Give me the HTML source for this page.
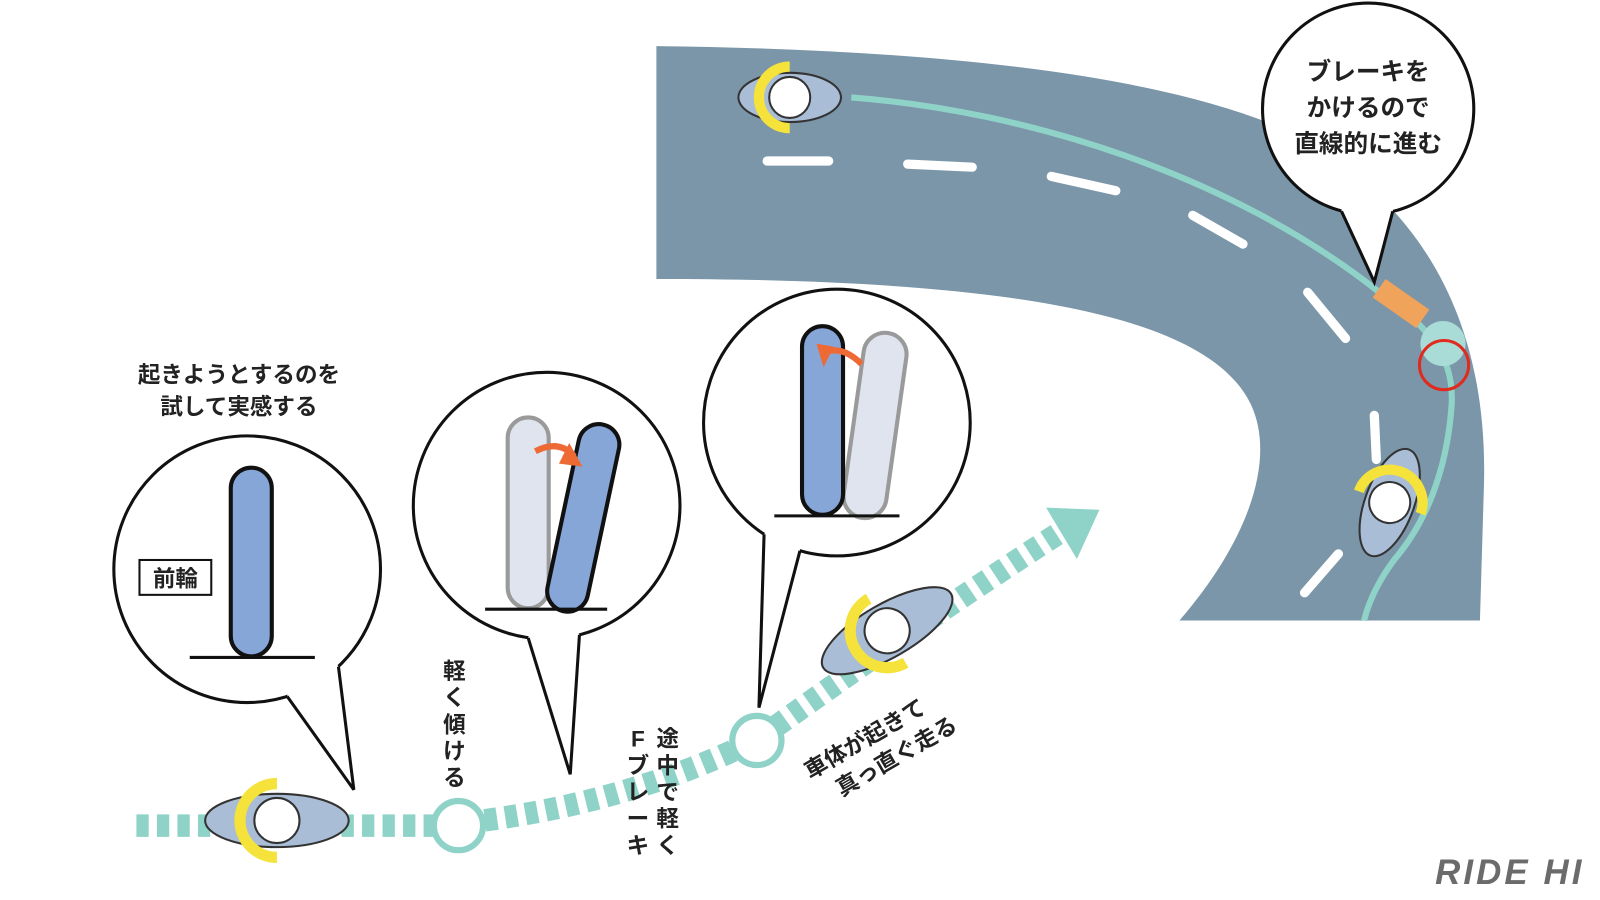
<!DOCTYPE html>
<html><head><meta charset="utf-8"><style>
html,body{margin:0;padding:0;background:#fff;}
svg{display:block;}
text{font-family:"Liberation Sans","Noto Sans CJK JP",sans-serif;font-weight:bold;fill:#222;}
</style></head><body>
<svg width="1600" height="900" viewBox="0 0 1600 900" xmlns="http://www.w3.org/2000/svg">
<g transform="scale(1.0256)">
<!-- road -->
<path d="M640,45 C900,48 1120,70 1250,125 C1400,200 1450,330 1447,470 L1443,605 L1150,605 C1215,530 1245,450 1220,395 C1180,310 1000,272 640,272 Z" fill="#7b96a9"/>
<g stroke="#fff" stroke-width="9" stroke-linecap="round" fill="none">
<path d="M748,157 L808,157"/><path d="M885,160 L948,163"/><path d="M1025,172 L1088,186"/>
<path d="M1163,210 L1212,238"/><path d="M1275,285 L1312,330"/><path d="M1340,405 L1342,448"/>
<path d="M1305,540 L1272,578"/>
</g>
<path d="M830,95 C1000,108 1200,170 1345,285 C1395,320 1420,350 1415,400 C1410,460 1390,510 1360,545 C1345,565 1335,585 1330,605" stroke="#8fd3c8" stroke-width="6" fill="none"/>
<rect x="1340" y="285" width="52" height="22" fill="#f0a35a" transform="rotate(35 1366 296)"/>
<circle cx="1407" cy="335" r="22" fill="#a9dcd6"/>
<circle cx="1408" cy="356" r="24" fill="none" stroke="#e02a1e" stroke-width="3"/>
<!-- top bubble -->
<circle cx="1334" cy="106" r="103" fill="#fff" stroke="#111" stroke-width="3"/>
<path d="M1310,180 L1308,206 L1340,275 L1358,206 L1360,180 Z" fill="#fff"/>
<path d="M1308,206 L1340,275 L1358,206" fill="none" stroke="#111" stroke-width="3"/>
<text x="1334" y="78" font-size="24" text-anchor="middle">ブレーキを</text>
<text x="1334" y="113" font-size="24" text-anchor="middle">かけるので</text>
<text x="1334" y="148" font-size="24" text-anchor="middle">直線的に進む</text>
<!-- riders on road -->
<g transform="translate(770,95) rotate(90)">
<ellipse cx="0" cy="0" rx="24" ry="50" fill="#a9bdd6" stroke="#333" stroke-width="2"/>
<path d="M-30,0 A30,30 0 0 0 30,0" stroke="#f5e23a" stroke-width="10" fill="none"/>
<circle cx="0" cy="0" r="20" fill="#fff" stroke="#333" stroke-width="2"/>
</g>
<g transform="translate(1355,490) rotate(200)">
<ellipse cx="0" cy="0" rx="24" ry="55" fill="#a9bdd6" stroke="#333" stroke-width="2"/>
<path d="M-32,0 A32,32 0 0 0 32,0" stroke="#f5e23a" stroke-width="10" fill="none"/>
<circle cx="0" cy="0" r="20" fill="#fff" stroke="#333" stroke-width="2"/>
</g>
<!-- bottom path -->
<path d="M133,805 L425,805 Q600,790 740,720 Q900,605 1040,515" stroke="#8fd3c8" stroke-width="22" fill="none" stroke-dasharray="12,8"/>
<path d="M1072,497 L1020,495 L1050,545 Z" fill="#8fd3c8"/>
<circle cx="447" cy="805" r="24" fill="#fff" stroke="#8fd3c8" stroke-width="6"/>
<circle cx="738" cy="722" r="24" fill="#fff" stroke="#8fd3c8" stroke-width="6"/>
<g transform="translate(270,800) rotate(90)">
<ellipse cx="0" cy="0" rx="26" ry="70" fill="#a9bdd6" stroke="#333" stroke-width="2"/>
<path d="M-36,0 A36,36 0 0 0 36,0" stroke="#f5e23a" stroke-width="11" fill="none"/>
<circle cx="0" cy="0" r="22" fill="#fff" stroke="#333" stroke-width="2"/>
</g>
<g transform="translate(865,615) rotate(60)">
<ellipse cx="0" cy="0" rx="26" ry="72" fill="#a9bdd6" stroke="#333" stroke-width="2"/>
<path d="M-36,0 A36,36 0 0 0 36,0" stroke="#f5e23a" stroke-width="11" fill="none"/>
<circle cx="0" cy="0" r="22" fill="#fff" stroke="#333" stroke-width="2"/>
</g>
<!-- bubbles -->
<g stroke="#111" stroke-width="3" fill="#fff">
<circle cx="241" cy="555" r="130"/>
<circle cx="533" cy="493" r="130"/>
<circle cx="816" cy="412" r="130"/>
</g>
<g fill="#fff">
<path d="M300,600 L280,679 L345,770 L330,650 Z"/>
<path d="M530,560 L515,622 L556,755 L565,619 Z"/>
<path d="M780,470 L745,521 L740,690 L780,537 Z"/>
</g>
<g fill="none" stroke="#111" stroke-width="3">
<path d="M280,679 L345,770 L330,650"/>
<path d="M515,622 L556,755 L565,619"/>
<path d="M745,521 L740,690 L780,537"/>
</g>
<!-- bubble 1 -->
<rect x="225" y="456" width="40" height="184" rx="20" fill="#86a6d8" stroke="#111" stroke-width="4"/>
<line x1="185" y1="641" x2="307" y2="641" stroke="#111" stroke-width="3"/>
<rect x="136" y="546" width="70" height="34" fill="#fff" stroke="#111" stroke-width="2"/>
<text x="171" y="572" font-size="22" text-anchor="middle">前輪</text>
<!-- bubble 2 -->
<rect x="495" y="407" width="40" height="186" rx="20" fill="#dfe4ef" stroke="#9a9a9a" stroke-width="4"/>
<rect x="530" y="410" width="40" height="186" rx="20" fill="#86a6d8" stroke="#111" stroke-width="4" transform="rotate(12 550 593)"/>
<line x1="473" y1="594" x2="592" y2="594" stroke="#111" stroke-width="3"/>
<path d="M522,440 Q545,428 560,445" stroke="#ee6a35" stroke-width="6" fill="none"/>
<path d="M555,432 L568,455 L545,452 Z" fill="#ee6a35"/>
<!-- bubble 3 -->
<rect x="820" y="320" width="42" height="182" rx="21" fill="#dfe4ef" stroke="#9a9a9a" stroke-width="4" transform="rotate(8 820 500)"/>
<rect x="782" y="318" width="40" height="184" rx="20" fill="#86a6d8" stroke="#111" stroke-width="4"/>
<line x1="755" y1="503" x2="877" y2="503" stroke="#111" stroke-width="3"/>
<path d="M840,355 Q820,335 800,345" stroke="#ee6a35" stroke-width="6" fill="none"/>
<path d="M796,335 L803,358 L813,338 Z" fill="#ee6a35"/>
<!-- labels -->
<text x="233" y="373" font-size="22" text-anchor="middle">起きようとするのを</text>
<text x="233" y="404" font-size="22" text-anchor="middle">試して実感する</text>
<g font-size="22" text-anchor="middle">
<text x="443" y="662">軽</text><text x="443" y="688">く</text><text x="443" y="714">傾</text><text x="443" y="740">け</text><text x="443" y="766">る</text>
<text x="651" y="728">途</text><text x="651" y="754">中</text><text x="651" y="780">で</text><text x="651" y="806">軽</text><text x="651" y="832">く</text>
<text x="622" y="728">F</text><text x="622" y="754">ブ</text><text x="622" y="780">レ</text><text x="622" y="806">ー</text><text x="622" y="832">キ</text>
</g>
<g transform="translate(790,760) rotate(-30)" font-size="22">
<text x="0" y="0">車体が起きて</text>
<text x="18" y="30">真っ直ぐ走る</text>
</g>
<text x="1545" y="862" font-size="34" text-anchor="end" font-style="italic" style="fill:#6b6b6b;font-weight:900;letter-spacing:3px">RIDE HI</text>
</g>
</svg>
</body></html>
